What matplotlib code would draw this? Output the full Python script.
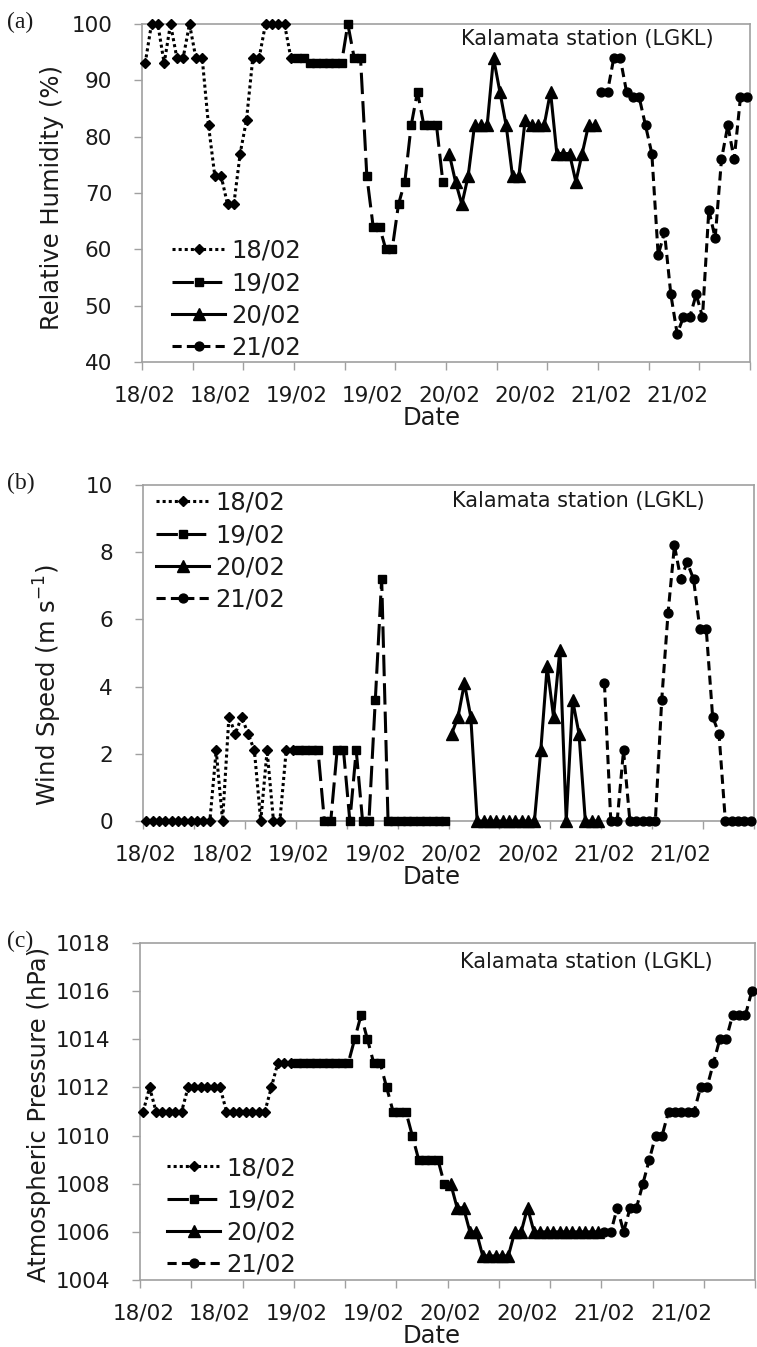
import matplotlib
matplotlib.use("Agg")
import matplotlib.pyplot as plt
import numpy as np

# ---------------- data ----------------
days = ["18/02", "19/02", "20/02", "21/02"]
hours_per_day = 24
xtick_labels = ["18/02", "18/02", "19/02", "19/02", "20/02", "20/02", "21/02", "21/02"]
station = "Kalamata station (LGKL)"

rh_18 = [93, 100, 100, 93, 100, 94, 94, 100, 94, 94, 82, 73, 73, 68, 68, 77, 83, 94, 94, 100, 100, 100, 100, 94]
rh_19 = [94, 94, 93, 93, 93, 93, 93, 93, 100, 94, 94, 73, 64, 64, 60, 60, 68, 72, 82, 88, 82, 82, 82, 72]
rh_20 = [77, 72, 68, 73, 82, 82, 82, 94, 88, 82, 73, 73, 83, 82, 82, 82, 88, 77, 77, 77, 72, 77, 82, 82]
rh_21 = [88, 88, 94, 94, 88, 87, 87, 82, 77, 59, 63, 52, 45, 48, 48, 52, 48, 67, 62, 76, 82, 76, 87, 87]

ws_18 = [0, 0, 0, 0, 0, 0, 0, 0, 0, 0, 0, 2.1, 0, 3.1, 2.6, 3.1, 2.6, 2.1, 0, 2.1, 0, 0, 2.1, 2.1]
ws_19 = [2.1, 2.1, 2.1, 2.1, 0, 0, 2.1, 2.1, 0, 2.1, 0, 0, 3.6, 7.2, 0, 0, 0, 0, 0, 0, 0, 0, 0, 0]
ws_20 = [2.6, 3.1, 4.1, 3.1, 0, 0, 0, 0, 0, 0, 0, 0, 0, 0, 2.1, 4.6, 3.1, 5.1, 0, 3.6, 2.6, 0, 0, 0]
ws_21 = [4.1, 0, 0, 2.1, 0, 0, 0, 0, 0, 3.6, 6.2, 8.2, 7.2, 7.7, 7.2, 5.7, 5.7, 3.1, 2.6, 0, 0, 0, 0, 0]

p_18 = [1011, 1012, 1011, 1011, 1011, 1011, 1011, 1012, 1012, 1012, 1012, 1012, 1012,
        1011, 1011, 1011, 1011, 1011, 1011, 1011, 1012, 1013, 1013, 1013]
p_19 = [1013, 1013, 1013, 1013, 1013, 1013, 1013, 1013, 1013, 1014, 1015, 1014,
        1013, 1013, 1012, 1011, 1011, 1011, 1010, 1009, 1009, 1009, 1009, 1008]
p_20 = [1008, 1007, 1007, 1006, 1006, 1005, 1005, 1005, 1005, 1005, 1006, 1006,
        1007, 1006, 1006, 1006, 1006, 1006, 1006, 1006, 1006, 1006, 1006, 1006]
p_21 = [1006, 1006, 1007, 1006, 1007, 1007, 1008, 1009, 1010, 1010, 1011, 1011,
        1011, 1011, 1011, 1012, 1012, 1013, 1014, 1014, 1015, 1015, 1015, 1016]

panels = [
    dict(tag="(a)", series=[rh_18, rh_19, rh_20, rh_21], ylim=(40, 100), ystep=10,
         ylabel="Relative Humidity (%)"),
    dict(tag="(b)", series=[ws_18, ws_19, ws_20, ws_21], ylim=(0, 10), ystep=2,
         ylabel="Wind Speed (m s$^{-1}$)"),
    dict(tag="(c)", series=[p_18, p_19, p_20, p_21], ylim=(1004, 1018), ystep=2,
         ylabel="Atmospheric Pressure (hPa)"),
]

# ---------------- styling / layout ----------------
W, H = 757, 1347
fig = plt.figure(figsize=(W / 100, H / 100), dpi=100)
plt.rcParams['font.family'] = ['DejaVu Sans']

# axes boxes in pixels: left, right, top, bottom
boxes = [(142, 750, 24, 362), (143, 754, 485, 821), (140, 755, 943, 1280)]
ylabel_right = [64, 64, 51]
ylabel_center = [198, 685, 1114]
legend_anchor = [(172, 239), (156, 491), (167, 1156)]
station_pos = [(587, 39), (578, 501), (586, 962)]
tag_pos = [(7, 22), (7, 483), (7, 941)]

styles = [
    dict(ls=(0, (1, 1.0)), marker='D', ms=5.0),
    dict(ls=(0, (7, 2.3)), marker='s', ms=6.2),
    dict(ls='-', marker='^', ms=8.0),
    dict(ls=(0, (3.0, 1.7)), marker='o', ms=6.4),
]
gray = '#a0a0a0'
txtc = '#1a1a1a'
n_total = hours_per_day * len(days)

for k, p in enumerate(panels):
    l, r, t, b = boxes[k]
    ax = fig.add_axes([l / W, 1 - b / H, (r - l) / W, (b - t) / H])
    for d, (day, vals) in enumerate(zip(days, p["series"])):
        x = np.arange(len(vals)) + d * hours_per_day
        st = styles[d]
        ax.plot(x, vals, color='black', lw=2.2, linestyle=st['ls'], marker=st['marker'],
                markersize=st['ms'], markerfacecolor='black', markeredgecolor='black',
                label=day, zorder=3 + d, clip_on=False)
    ax.set_xlim(-0.5, n_total - 0.5)
    ax.set_ylim(*p["ylim"])
    ax.set_yticks(np.arange(p["ylim"][0], p["ylim"][1] + 0.01, p["ystep"]))
    # major ticks every 8 h without labels, labels every 12 h
    ax.set_xticks(np.arange(-0.5, n_total, 8))
    ax.set_xticklabels([])
    ax.set_xticks(np.arange(0, n_total, 12), xtick_labels, minor=True)
    ax.tick_params(axis='x', which='major', length=5.5, width=1.0, color=gray, direction='out')
    ax.tick_params(axis='x', which='minor', length=0, pad=17, labelsize=15.5, labelcolor=txtc)
    ax.tick_params(axis='y', which='major', length=5.5, width=1.0, color=gray, direction='out',
                   pad=16, labelsize=15.5, labelcolor=txtc)
    for s in ax.spines.values():
        s.set_color(gray)
        s.set_linewidth(1.2)

    ax.set_ylabel(p["ylabel"], fontsize=17.5, color=txtc)
    ax.yaxis.set_label_coords((ylabel_right[k] - l) / (r - l), (b - ylabel_center[k]) / (b - t))
    ax.set_xlabel("Date", fontsize=17.5, color=txtc)
    ax.xaxis.label.set_va('center')
    ax.xaxis.set_label_coords((432 - l) / (r - l), -(56) / (b - t))

    lx, ly = legend_anchor[k]
    ax.legend(loc='upper left', bbox_to_anchor=(lx / W, 1 - ly / H), bbox_transform=fig.transFigure,
              frameon=False, fontsize=17.5, handlelength=2.2, handletextpad=0.25,
              labelspacing=0.33, borderpad=0, borderaxespad=0, numpoints=1, labelcolor=txtc)

    sx, sy = station_pos[k]
    fig.text(sx / W, 1 - sy / H, station, fontsize=15, ha='center', va='center', color=txtc)
    tx, ty = tag_pos[k]
    fig.text(tx / W, 1 - ty / H, p["tag"], fontsize=17, ha='left', va='center',
             family=['Liberation Serif', 'DejaVu Serif'], color=txtc)

fig.savefig("out.png", dpi=100)
